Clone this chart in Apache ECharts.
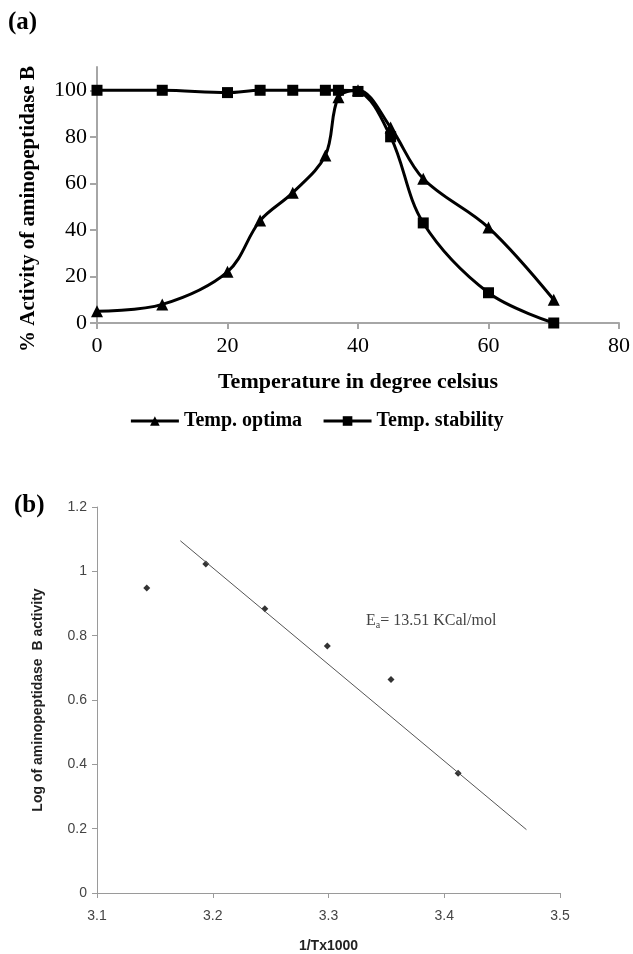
<!DOCTYPE html>
<html>
<head>
<meta charset="utf-8">
<script src="https://cdn.jsdelivr.net/npm/echarts@6/dist/echarts.min.js"></script>
<style>
html,body{margin:0;padding:0;background:#fff;}
#c{width:633px;height:954px;}
</style>
</head>
<body>
<div id="c"></div>
<script>
// ---- Panel (a) data ----
var tempA = [0, 10, 20, 25, 30, 35, 37, 40, 45, 50, 60, 70];
var optimaA = [5, 8, 22, 44, 56, 72, 97, 100, 84, 62, 41, 10];
var stabilityA = [100, 100, 99, 100, 100, 100, 100, 99.5, 80, 43, 13, 0];
var yTicksA = [0, 20, 40, 60, 80, 100];
var xTicksA = [0, 20, 40, 60, 80];
var seriesNamesA = ['Temp. optima', 'Temp. stability'];

// ---- Panel (b) data ----
var invT = [3.143, 3.194, 3.245, 3.299, 3.354, 3.412];
var logAct = [0.948, 1.023, 0.884, 0.768, 0.664, 0.372];
var trendX = [3.172, 3.471];
var trendY = [1.095, 0.197];
var yTicksB = [0, 0.2, 0.4, 0.6, 0.8, 1, 1.2];
var xTicksB = [3.1, 3.2, 3.3, 3.4, 3.5];

function pairs(xs, ys) { return xs.map(function (x, i) { return [x, ys[i]]; }); }

var serif = 'Liberation Serif';
var sans = 'Liberation Sans';
var chart = echarts.init(document.getElementById('c'), null, { renderer: 'canvas' });

chart.setOption({
  animation: false,
  backgroundColor: '#fff',
  grid: [
    { left: 97, top: 67, width: 522, height: 256 },
    { left: 97, top: 507, width: 463, height: 387 }
  ],
  legend: {
    data: seriesNamesA,
    top: 406,
    left: 'center',
    itemWidth: 48,
    itemHeight: 12,
    itemGap: 20,
    lineStyle: { width: 3 },
    textStyle: { fontFamily: serif, fontWeight: 'bold', fontSize: 20, color: '#000' }
  },
  xAxis: [
    {
      gridIndex: 0, type: 'value', min: 0, max: 80, interval: 20,
      name: 'Temperature in degree celsius', nameLocation: 'middle', nameGap: 48,
      nameTextStyle: { fontFamily: serif, fontWeight: 'bold', fontSize: 22, color: '#000' },
      axisLine: { lineStyle: { color: '#a6a6a6', width: 2 } },
      axisTick: { show: true, length: 6, lineStyle: { color: '#a6a6a6', width: 2 }, customValues: xTicksA },
      axisLabel: { fontFamily: serif, fontSize: 22, color: '#000', margin: 12, customValues: xTicksA },
      splitLine: { show: false }
    },
    {
      gridIndex: 1, type: 'value', min: 3.1, max: 3.5, interval: 0.1,
      name: '1/Tx1000', nameLocation: 'middle', nameGap: 46,
      nameTextStyle: { fontFamily: sans, fontWeight: 'bold', fontSize: 14, color: '#222' },
      axisLine: { lineStyle: { color: '#9a9a9a', width: 1 } },
      axisTick: { show: true, length: 5, lineStyle: { color: '#9a9a9a' }, customValues: xTicksB },
      axisLabel: { fontFamily: sans, fontSize: 14, color: '#444', margin: 16, customValues: xTicksB,
        formatter: function (v) { return (Math.round(v * 10) / 10).toFixed(1); } },
      splitLine: { show: false }
    }
  ],
  yAxis: [
    {
      gridIndex: 0, type: 'value', min: 0, max: 110, interval: 20,
      name: '% Activity of aminopeptidase B', nameLocation: 'middle', nameGap: 58,
      nameTextStyle: { fontFamily: serif, fontWeight: 'bold', fontSize: 21, color: '#000', padding: [0, 28, 0, 0] },
      axisLine: { show: true, lineStyle: { color: '#a6a6a6', width: 2 } },
      axisTick: { show: true, length: 7, lineStyle: { color: '#a6a6a6', width: 2 }, customValues: yTicksA },
      axisLabel: { fontFamily: serif, fontSize: 22, color: '#000', margin: 10, customValues: yTicksA },
      splitLine: { show: false }
    },
    {
      gridIndex: 1, type: 'value', min: 0, max: 1.2, interval: 0.2,
      name: 'Log of aminopeptidase  B activity', nameLocation: 'middle', nameGap: 52,
      nameTextStyle: { fontFamily: sans, fontWeight: 'bold', fontSize: 14, color: '#222' },
      axisLine: { show: true, lineStyle: { color: '#9a9a9a', width: 1 } },
      axisTick: { show: true, length: 5, lineStyle: { color: '#9a9a9a' }, customValues: yTicksB },
      axisLabel: { fontFamily: sans, fontSize: 14, color: '#444', margin: 10, customValues: yTicksB,
        formatter: function (v) { return String(Math.round(v * 10) / 10); } },
      splitLine: { show: false }
    }
  ],
  series: [
    {
      name: seriesNamesA[0], type: 'line', xAxisIndex: 0, yAxisIndex: 0,
      data: pairs(tempA, optimaA), smooth: 0.35,
      symbol: 'triangle', symbolSize: 12,
      lineStyle: { color: '#000', width: 3 }, itemStyle: { color: '#000' }
    },
    {
      name: seriesNamesA[1], type: 'line', xAxisIndex: 0, yAxisIndex: 0,
      data: pairs(tempA, stabilityA), smooth: 0.35,
      symbol: 'rect', symbolSize: 11,
      lineStyle: { color: '#000', width: 3 }, itemStyle: { color: '#000' }
    },
    {
      name: 'Data', type: 'scatter', xAxisIndex: 1, yAxisIndex: 1,
      data: pairs(invT, logAct), symbol: 'diamond', symbolSize: 7,
      itemStyle: { color: '#000' }
    },
    {
      name: 'Trend', type: 'line', xAxisIndex: 1, yAxisIndex: 1,
      data: pairs(trendX, trendY), symbol: 'none',
      lineStyle: { color: '#555', width: 1 }
    }
  ],
  graphic: [
    { type: 'text', left: 8, top: 10, style: { text: '(a)', font: 'bold 25px "Liberation Serif"', fill: '#000' } },
    { type: 'text', left: 14, top: 493, style: { text: '(b)', font: 'bold 25px "Liberation Serif"', fill: '#000' } },
    { type: 'text', left: 366, top: 613, style: {
        text: 'E{s|a}= 13.51 KCal/mol',
        font: '16px "Liberation Serif"', fill: '#444',
        rich: { s: { fontSize: 10, fontFamily: serif, fill: '#444', verticalAlign: 'bottom', padding: [8, 0, 0, 0] } }
    } }
  ]
});
</script>
</body>
</html>
